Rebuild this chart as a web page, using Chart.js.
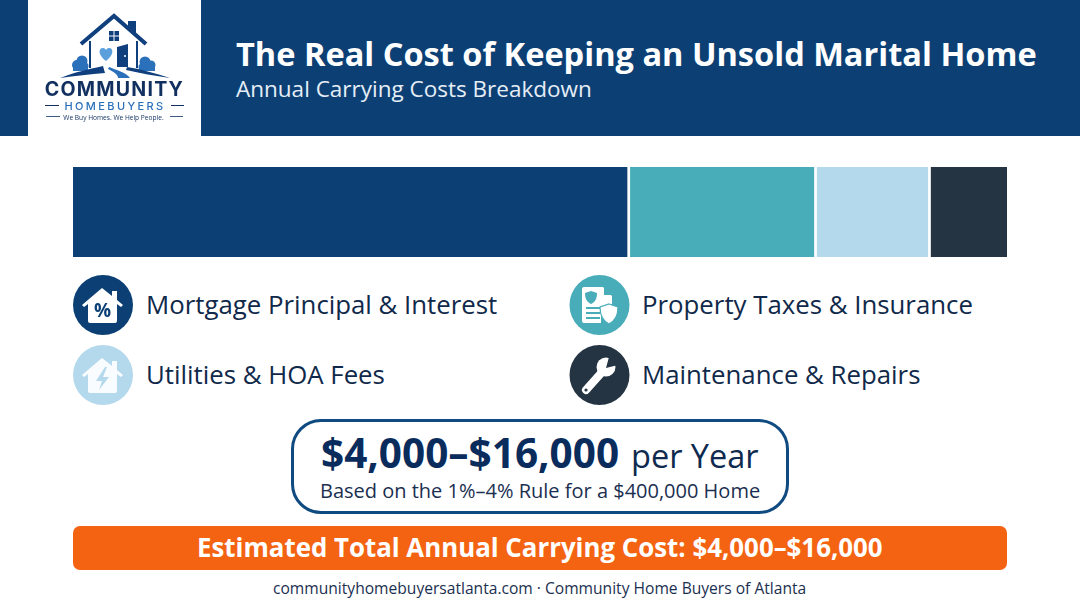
<!DOCTYPE html>
<html>
<head>
<meta charset="utf-8">
<title>The Real Cost of Keeping an Unsold Marital Home</title>
<script src="https://cdn.jsdelivr.net/npm/chart.js@4"></script>
<style>
    html, body { margin: 0; padding: 0; background: #fff; }
    body { width: 1080px; height: 603px; position: relative; overflow: hidden; font-family: "Open Sans", sans-serif; }
    .t { position: absolute; white-space: nowrap; line-height: 1; }
    #header { position: absolute; left: 0; top: 0; width: 1080px; height: 136px; background: #0c4075; }
    #logoBox { position: absolute; left: 28px; top: 0; width: 173px; height: 136px; background: #fff; }
    #art { position: absolute; left: 0; top: 0; }
    #barWrap { position: absolute; left: 73px; top: 167px; width: 934px; height: 90px; }
    #box { position: absolute; left: 291px; top: 419px; width: 492px; height: 89px; border: 3px solid #0f4a80; border-radius: 30px; }
    #strip { position: absolute; left: 73px; top: 526px; width: 934px; height: 44px; background: #f46312; border-radius: 7px; }
    .lg { color: #10294a; font-size: 25.8px; }
</style>
</head>
<body>
<div id="header"></div>
<div id="logoBox"></div>

<div class="t" id="title" style="left:236px;top:37.5px;font-size:32.55px;font-weight:700;color:#fff;">The Real Cost of Keeping an Unsold Marital Home</div>
<div class="t" id="sub" style="left:236px;top:77.5px;font-size:22.5px;color:#e6eef5;">Annual Carrying Costs Breakdown</div>

<div id="barWrap"><canvas id="costBar" width="934" height="90"></canvas></div>
<div id="legend"></div>

<div id="box"></div>
<div class="t" style="left:321px;top:433px;font-size:40.5px;font-weight:700;color:#0a2c5c;">$4,000–$16,000</div>
<div class="t" style="left:631px;top:440px;font-size:32.5px;color:#0f2a4f;">per Year</div>
<div class="t" style="left:320px;top:481px;font-size:20px;color:#1b2f50;">Based on the 1%–4% Rule for a $400,000 Home</div>

<div id="strip"></div>
<div class="t" style="left:197px;top:535px;font-size:25.85px;font-weight:700;color:#fff;">Estimated Total Annual Carrying Cost: $4,000–$16,000</div>
<div class="t" style="left:273px;top:581px;font-size:15.6px;color:#1b2f50;">communityhomebuyersatlanta.com · Community Home Buyers of Atlanta</div>

<svg id="art" width="1080" height="603" viewBox="0 0 1080 603">
    <!-- logo -->
    <g fill="none" stroke="#0f3f7c" stroke-linejoin="miter">
        <path d="M81 44 L114 16 L146 44" stroke-width="4"/>
        <path d="M90 41 V68 M137 41 V68" stroke-width="2"/>
    </g>
    <path d="M128 21 H136 V36 L128 29 Z" fill="#0f3f7c"/>
    <path d="M109 31 H113.5 V35.5 H109 Z M114.5 31 H119 V35.5 H114.5 Z M109 36.5 H113.5 V41 H109 Z M114.5 36.5 H119 V41 H114.5 Z" fill="#0f3f7c"/>
    <path d="M106 61 C97 54 99 48 103 48 C105 48 106 50 106 50 C106 50 107 48 109 48 C113 48 115 54 106 61 Z" fill="#5b9fdc"/>
    <path d="M117 47 L128 44 V67 H117 Z" fill="#0f3f7c"/>
    <circle cx="125" cy="56" r="1" fill="#fff"/>
    <g fill="#2a70ba">
        <circle cx="77" cy="65" r="5"/><circle cx="82" cy="61" r="5.5"/><circle cx="85" cy="66" r="3.5"/><rect x="73" y="65" width="15" height="6"/>
        <circle cx="151" cy="65" r="4.5"/><circle cx="145" cy="62" r="5.5"/><circle cx="142" cy="67" r="3.5"/><rect x="139" y="65" width="16" height="6"/>
    </g>
    <path d="M60 78 C75 72 90 69 103 66 L105 73 C90 74 75 76 60 78 Z" fill="#0f3f7c"/>
    <path d="M170 78 C155 73 140 69 127 67 L126 70 C140 73 155 76 170 78 Z" fill="#0f3f7c"/>
    <path d="M109 67 C116 70 126 72 130 78 H118 C118 74 112 71 108 69 Z" fill="#2a70ba"/>
    <text x="114.5" y="96" text-anchor="middle" font-family="Inter" font-weight="700" font-size="19.6" letter-spacing="1.2" fill="#11305f">COMMUNITY</text>
    <text x="115" y="110" text-anchor="middle" font-family="Inter" font-weight="500" font-size="11" letter-spacing="2.4" fill="#2a70ba">HOMEBUYERS</text>
    <path d="M45 105.5 H59 M171 105.5 H184" stroke="#11305f" stroke-width="1"/>
    <text x="113.5" y="120" text-anchor="middle" font-family="Open Sans" font-size="6.6" fill="#11305f">We Buy Homes. We Help People.</text>
    <path d="M46 116.5 H60 M170 116.5 H183" stroke="#11305f" stroke-width="0.8"/>

    <!-- legend icons -->
    <circle cx="103" cy="305" r="30" fill="#0c4075"/>
    <circle cx="103" cy="375" r="30" fill="#b5d9ec"/>
    <circle cx="599.5" cy="305" r="30" fill="#48acb9"/>
    <circle cx="599.5" cy="375" r="30" fill="#243443"/>

    <path id="house" d="M102 288 L112 296 V291 H117 V300 L123 305 L121 307 L117 304 V321 Q117 323 115 323 H90 Q88 323 88 321 V304 L84 307 L82 305 Z" fill="#fff"/>
    <text x="102.5" y="317" text-anchor="middle" font-family="Open Sans" font-weight="700" font-size="19" fill="#0c4075">%</text>
    <use href="#house" y="70" opacity="0.92"/>
    <path d="M105 367 L96 381 H102 L99 390 L109 377 H103 L107 367 Z" fill="#b5d9ec"/>

    <path d="M584 287 H603 L612 296 V304 C607 306 602 307 601 309 V323 H584 Q582 323 582 321 V289 Q582 287 584 287 Z" fill="#fff"/>
    <path d="M604 287 L612 295 H604 Z" fill="#48acb9"/>
    <path d="M591 291 L597 293 C597 299 595 302 591 304 C587 302 585 299 585 293 Z" fill="#48acb9"/>
    <path d="M586 308 H600 M586 313 H600 M586 318 H600" stroke="#48acb9" stroke-width="1.8"/>
    <path d="M609 304 L618 307 C618 316 615 321 609 324 C603 321 600 316 600 307 Z" fill="#fff" stroke="#48acb9" stroke-width="1.2"/>

    <path d="M586 390 L603 371" stroke="#fff" stroke-width="8" stroke-linecap="round"/>
    <circle cx="606" cy="367" r="9.5" fill="#fff"/>
    <path d="M606 368 L609 357 H618 V365 Z" fill="#243443"/>
    <circle cx="586" cy="390" r="1.6" fill="#243443"/>
</svg>

<script>
const categories = ['Mortgage Principal & Interest', 'Property Taxes & Insurance', 'Utilities & HOA Fees', 'Maintenance & Repairs'];
const shares = [59.5, 20, 12.2, 8.3];
const barColors = ['#0c4075', '#48acb9', '#b5d9ec', '#243443'];
const legendSpots = [[146, 292], [642, 292], [146, 362], [642, 362]];

const gap = 1.7;
const datasets = categories.map((name, i) => ({
    label: name,
    data: [shares[i]],
    backgroundColor: barColors[i],
    borderColor: '#ffffff',
    borderSkipped: false,
    borderWidth: {
        left: i === 0 ? 0 : gap,
        right: i === categories.length - 1 ? 0 : gap,
        top: 0,
        bottom: 0
    }
}));

new Chart(document.getElementById('costBar'), {
    type: 'bar',
    data: { labels: ['Annual carrying costs'], datasets: datasets },
    options: {
        indexAxis: 'y',
        responsive: false,
        animation: false,
        layout: { padding: 0 },
        datasets: { bar: { barPercentage: 1, categoryPercentage: 1 } },
        scales: {
            x: { stacked: true, min: 0, max: 100, display: false },
            y: { stacked: true, display: false }
        },
        plugins: { legend: { display: false }, tooltip: { enabled: false } }
    }
});

const legend = document.getElementById('legend');
categories.forEach((name, i) => {
    const el = document.createElement('div');
    el.className = 't lg';
    el.style.left = legendSpots[i][0] + 'px';
    el.style.top = legendSpots[i][1] + 'px';
    el.textContent = name;
    legend.appendChild(el);
});
</script>
</body>
</html>
